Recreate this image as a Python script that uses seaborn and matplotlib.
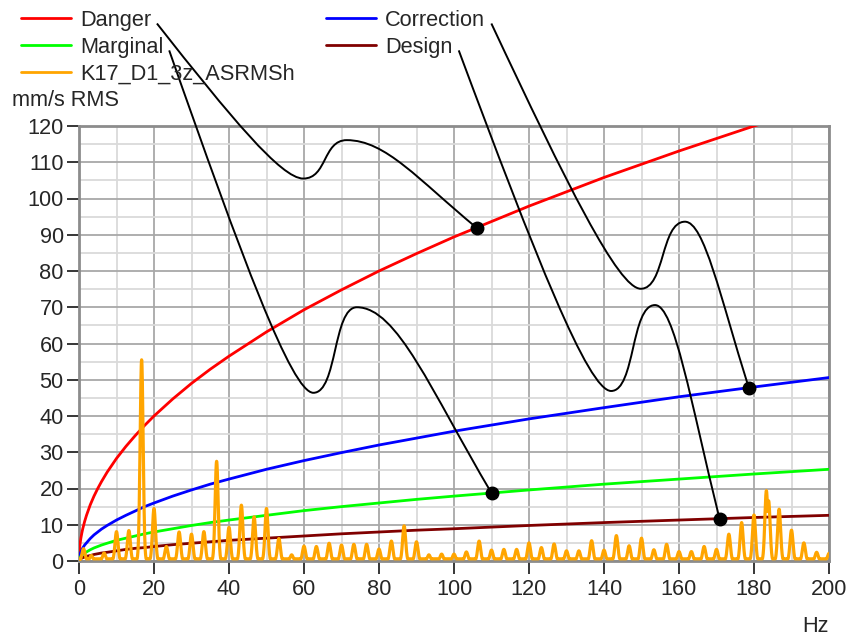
import numpy as np
import pandas as pd
import matplotlib
matplotlib.use("Agg")
import matplotlib.pyplot as plt
import seaborn as sns
from matplotlib.path import Path
from matplotlib.patches import PathPatch
from matplotlib.lines import Line2D

# ---------------- data ----------------
freq = [0, 0.1, 0.25, 0.5, 0.75, 1, 1.5, 2, 3, 4, 5, 6, 7.5, 10, 12.5, 15,
        17.5, 20, 25, 30, 35, 40, 50, 60, 70, 80, 90, 100, 120, 140, 160,
        180, 200]
danger = [0, 2.8, 4.5, 6.3, 7.7, 8.9, 10.9, 12.6, 15.5, 17.9, 20.0, 21.9,
          24.5, 28.3, 31.6, 34.6, 37.4, 40.0, 44.7, 49.0, 52.9, 56.5, 63.2,
          69.3, 74.8, 80.0, 84.8, 89.4, 97.9, 105.8, 113.1, 120.0, 126.5]
correction = [0, 1.1, 1.8, 2.5, 3.1, 3.6, 4.4, 5.0, 6.2, 7.2, 8.0, 8.8, 9.8,
              11.3, 12.6, 13.8, 15.0, 16.0, 17.9, 19.6, 21.2, 22.6, 25.3,
              27.7, 29.9, 32.0, 33.9, 35.8, 39.2, 42.3, 45.3, 48.0, 50.6]
marginal = [0, 0.6, 0.9, 1.3, 1.5, 1.8, 2.2, 2.5, 3.1, 3.6, 4.0, 4.4, 4.9,
            5.7, 6.3, 6.9, 7.5, 8.0, 8.9, 9.8, 10.6, 11.3, 12.6, 13.9, 15.0,
            16.0, 17.0, 17.9, 19.6, 21.2, 22.6, 24.0, 25.3]
design = [0, 0.3, 0.45, 0.6, 0.8, 0.9, 1.1, 1.3, 1.5, 1.8, 2.0, 2.2, 2.4,
          2.8, 3.2, 3.5, 3.7, 4.0, 4.5, 4.9, 5.3, 5.7, 6.3, 6.9, 7.5, 8.0,
          8.5, 8.9, 9.8, 10.6, 11.3, 12.0, 12.6]

# spectrum K17_D1_3z_ASRMSh: peak frequencies (Hz) and peak heights (mm/s)
peak_freq = [1.2, 3.3, 6.7, 10.0, 13.3, 16.7, 20.0, 23.3, 26.7, 30.0, 33.3,
             36.7, 40.0, 43.3, 46.7, 50.0, 53.3, 56.7, 60.0, 63.3, 66.7, 70.0,
             73.3, 76.7, 80.0, 83.3, 86.7, 90.0, 93.3, 96.7, 100.0, 103.3,
             106.7, 110.0, 113.3, 116.7, 120.0, 123.3, 126.7, 130.0, 133.3,
             136.7, 140.0, 143.3, 146.7, 150.0, 153.3, 156.7, 160.0, 163.3,
             166.7, 170.0, 173.3, 176.7, 180.0, 183.3, 183.9, 186.7, 190.0,
             193.3, 196.7, 200.0]
peak_height = [3.4, 1.5, 2.2, 8.1, 8.4, 55.5, 14.5, 4.0, 8.0, 7.4, 8.1,
               27.5, 9.3, 15.4, 12.2, 14.5, 6.2, 1.7, 4.1, 4.0, 4.9, 4.4,
               4.6, 4.6, 3.3, 5.5, 9.7, 5.3, 1.7, 1.9, 1.9, 2.5,
               5.5, 3.0, 3.2, 3.2, 5.0, 3.7, 4.7, 2.8, 2.8,
               5.6, 3.0, 7.0, 4.2, 6.3, 3.1, 4.6, 2.6, 2.6,
               4.0, 3.2, 7.4, 10.6, 12.7, 19.4, 16.6, 14.3, 8.5,
               5.0, 2.4, 2.1]
spectrum_floor = 0.6

series_names = ["Danger", "Correction", "Marginal", "Design"]
series_values = [danger, correction, marginal, design]
spectrum_name = "K17_D1_3z_ASRMSh"

# callouts: legend entry -> (valley point, crest point, dot frequency)
callout_names = ["Danger", "Marginal", "Correction", "Design"]
callout_valley = [(59.8, 105.5), (62.5, 46.4), (149.8, 75.1), (141.9, 46.9)]
callout_crest = [(71.4, 116.1), (74.1, 70.0), (161.6, 93.6), (153.6, 70.6)]
callout_dot_freq = [106.0, 110.0, 178.6, 170.8]

x_ticks = list(range(0, 201, 20))
y_ticks = list(range(0, 121, 10))

# ---------------- styling ----------------
colors = {"Danger": "#FF0000", "Correction": "#0000FF", "Marginal": "#00FF00",
          "Design": "#800000", spectrum_name: "#FFA500"}

sns.set_theme(style="white")
plt.rcParams["font.family"] = ["Liberation Sans", "DejaVu Sans"]
FS = 15.7

fig = plt.figure(figsize=(8.51, 6.38), dpi=100)
ax = fig.add_axes([79 / 851, 1 - 561 / 638, 750 / 851, 435 / 638])

long_df = pd.DataFrame({
    "freq": np.tile(freq, len(series_names)),
    "value": np.concatenate(series_values),
    "series": np.repeat(series_names, len(freq)),
})
sns.lineplot(data=long_df, x="freq", y="value", hue="series",
             hue_order=series_names, palette=colors, estimator=None,
             linewidth=2.0, legend=False, ax=ax, zorder=3)

# spectrum line built from the peak list
fx = np.arange(0, 200.001, 0.05)
fy = np.full_like(fx, spectrum_floor)
fy[fx < 0.4] = fx[fx < 0.4] / 0.4 * spectrum_floor
for f0, h in zip(peak_freq, peak_height):
    fy = np.maximum(fy, h * np.exp(-0.5 * ((fx - f0) / 0.4) ** 2))
sns.lineplot(x=fx, y=fy, color=colors[spectrum_name], linewidth=2.3,
             estimator=None, ax=ax, zorder=4)

ax.set_xlim(0, 200)
ax.set_ylim(0, 120)
ax.set_xticks(x_ticks)
ax.set_yticks(y_ticks)
ax.set_xticks(list(range(10, 200, 20)), minor=True)
ax.set_yticks(list(range(5, 120, 10)), minor=True)
ax.grid(which="major", color="#A8A8A8", linewidth=1.3)
ax.grid(which="minor", color="#DADADA", linewidth=1.3)
ax.set_axisbelow(True)
ax.tick_params(which="major", direction="out", length=9, width=1.1,
               color="black", labelsize=FS, bottom=True, left=True)
ax.tick_params(axis="x", pad=4)
ax.tick_params(axis="y", pad=2)
ax.tick_params(which="minor", length=0)
for s in ax.spines.values():
    s.set_color("#8C8C8C")
    s.set_linewidth(2.0)
ax.set_xlabel("")
ax.set_ylabel("")

fig.text(12 / 851, 1 - 101 / 638, "mm/s RMS", fontsize=FS, ha="left", va="center")
fig.text(829 / 851, 1 - 627 / 638, "Hz", fontsize=FS, ha="right", va="center")

# legend (column-major, two columns)
leg_order = ["Danger", "Marginal", spectrum_name, "Correction", "Design"]
handles = [Line2D([], [], color=colors[n], linewidth=2.0) for n in leg_order]
leg = fig.legend(handles, leg_order, loc="upper left",
                 bbox_to_anchor=(20.5 / 851, 1 - 10 / 638), ncol=2,
                 frameon=False, fontsize=FS, handlelength=2.3,
                 handletextpad=0.42, columnspacing=1.45, labelspacing=0.27,
                 borderpad=0, borderaxespad=0)

# callout leader lines from legend labels to dots on the curves
fig.canvas.draw()
renderer = fig.canvas.get_renderer()
inv = ax.transData.inverted()
label_texts = {t.get_text(): t for t in leg.get_texts()}
curve_of = dict(zip(series_names, series_values))
for name, (vx, vy), (cx, cy), dx_ in zip(callout_names, callout_valley,
                                         callout_crest, callout_dot_freq):
    bb = label_texts[name].get_window_extent(renderer)
    p0 = np.array(inv.transform((bb.x1 + 6, bb.y0 + bb.height / 2 - 3)))
    a = np.array([vx, vy])
    b = np.array([cx, cy])
    d = np.array([dx_, float(np.interp(dx_, freq, curve_of[name]))])
    v1 = a - p0
    seg1 = [p0 + np.array([0.5 * v1[0], 0.6 * v1[1]]),
            a - np.array([0.15 * v1[0], 0.0]), a]
    v2 = b - a
    seg2 = [a + np.array([0.55 * v2[0], 0.0]),
            b - np.array([0.55 * v2[0], 0.0]), b]
    v3 = d - b
    seg3 = [b + np.array([0.3 * v3[0], 0.0]),
            b + np.array([0.55 * v3[0], 0.45 * v3[1]]), d]
    verts = [p0] + seg1 + seg2 + seg3
    codes = [Path.MOVETO] + [Path.CURVE4] * 9
    ax.add_patch(PathPatch(Path(verts, codes), facecolor="none",
                           edgecolor="black", linewidth=1.4, clip_on=False,
                           zorder=6))
    ax.plot([d[0]], [d[1]], "o", color="black", markersize=9, zorder=7,
            clip_on=False)

ax.set_xlim(0, 200)
ax.set_ylim(0, 120)
fig.savefig("out.png", dpi=100)
